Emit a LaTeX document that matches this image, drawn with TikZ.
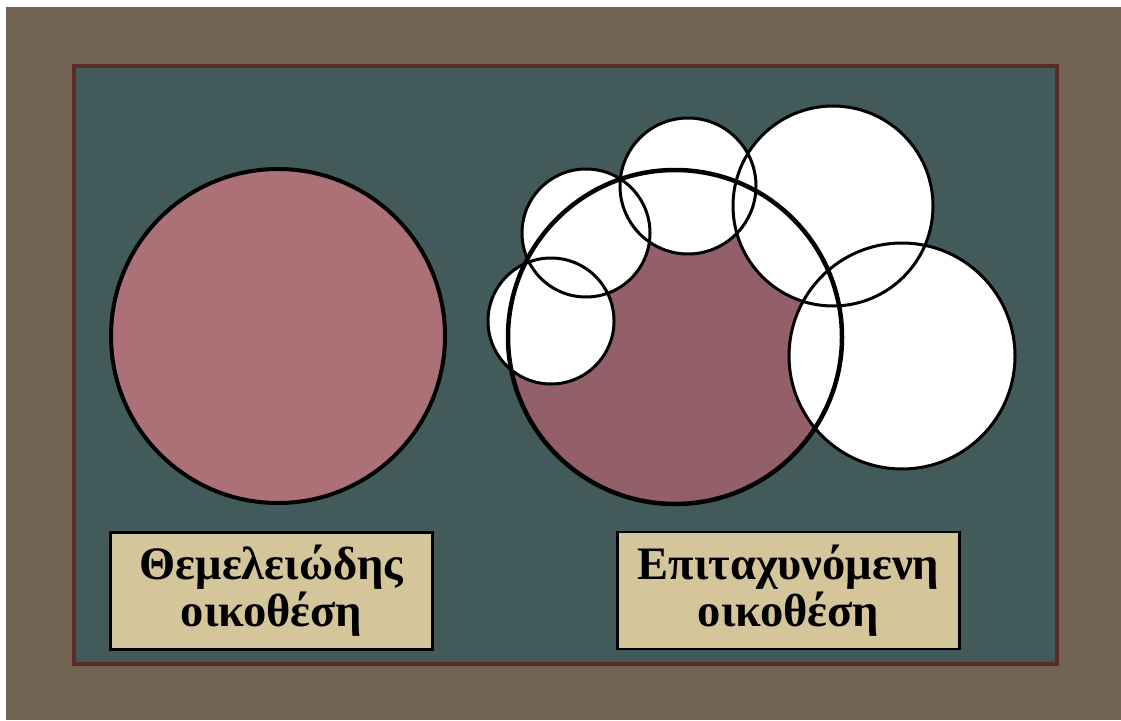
\documentclass[tikz,border=0pt]{standalone}
\usepackage{fontspec}
\setmainfont{Liberation Serif}
\definecolor{bgbrown}{HTML}{736353}
\definecolor{panel}{HTML}{435A5B}
\definecolor{framebr}{HTML}{5C2B25}
\definecolor{roseA}{HTML}{AB7177}
\definecolor{roseB}{HTML}{935F69}
\definecolor{sand}{HTML}{D5C59A}
\tikzset{
  lbl/.style={draw=black,line width=2.5pt,fill=sand,minimum width=#1,minimum height=117pt,inner sep=0pt,align=center,
    font=\fontsize{46.5}{47}\selectfont\bfseries},
  wcirc/.style={draw=black,line width=3pt},
}
\begin{document}
\begin{tikzpicture}[x=1pt,y=-1pt]
\useasboundingbox (0,0) rectangle (1121,720);
\fill[white] (0,0) rectangle (1121,720);
\fill[bgbrown] (6,7) rectangle (1121,720);
\draw[framebr,line width=4pt,fill=panel] (74,65.5) rectangle (1056.5,663.5);
% left circle
\draw[black,line width=4pt,fill=roseA] (278,336) circle (167);
% right composition
\fill[roseB] (675,337) circle (167);
\fill[white] (586,233) circle (64);
\fill[white] (688,186) circle (68);
\fill[white] (833,206) circle (100);
\fill[white] (902,356) circle (113);
\fill[white] (551,321) circle (63);
\draw[wcirc] (586,233) circle (64);
\draw[wcirc] (688,186) circle (68);
\draw[wcirc] (833,206) circle (100);
\draw[wcirc] (902,356) circle (113);
\draw[wcirc] (551,321) circle (63);
\draw[black,line width=4.5pt] (675,337) circle (167);
% labels
\node[lbl=322pt] (lA) at (271.5,591) {Θεμελειώδης\\οικοθέση};
\node[lbl=342pt] (lB) at (788.5,590.5) {Επιταχυνόμενη\\οικοθέση};
\end{tikzpicture}
\end{document}
